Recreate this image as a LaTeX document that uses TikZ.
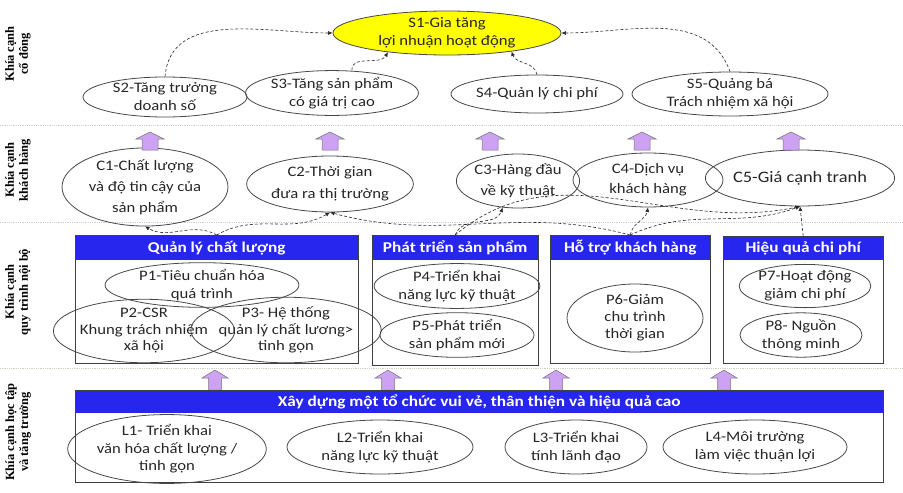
\documentclass[tikz,border=0pt]{standalone}
\usepackage{fontspec}
\setmainfont{Carlito}
\newfontfamily\ovalfont{Carlito}[FakeStretch=1.15]
\newfontfamily\sidefont{Liberation Serif}
\usetikzlibrary{shapes.geometric,arrows.meta}

\definecolor{hdrblue}{RGB}{38,38,238}
\definecolor{goalyellow}{RGB}{255,255,0}
\definecolor{liftpurple}{RGB}{206,162,242}
\definecolor{rulegrey}{RGB}{210,208,196}

\begin{document}
\begin{tikzpicture}[x=1pt,y=-1pt,
  oval/.style={ellipse, draw=black!72, line width=0.8pt, inner sep=0pt, align=center,
    text=black!85, font=\ovalfont\fontsize{14.5}{18}\selectfont},
  goal/.style={oval, fill=goalyellow},
  panel/.style={draw=black!75, line width=0.7pt, inner sep=0pt, anchor=north west},
  banner/.style={fill=hdrblue, text=white, inner sep=0pt, anchor=north west,
    font=\ovalfont\bfseries\fontsize{15}{17}\selectfont},
  link/.style={densely dashed, line width=0.6pt, black!85, -{Latex[length=4.5pt,width=4pt]}},
  liftbody/.style={draw=black!55, fill=liftpurple, line width=0.5pt, line join=miter},
  side/.style={rotate=90, align=center, inner sep=0pt,
    font=\sidefont\bfseries\fontsize{12.5}{14}\selectfont},
  rule/.style={rulegrey, line width=0.8pt, densely dotted},
  % block arrow standing on its base point
  lift/.pic={\path[liftbody] (-8,0) -- (-8,-11) -- (-14,-11) -- (0,-18) -- (14,-11) -- (8,-11) -- (8,0) -- cycle;},
  liftlow/.pic={\path[liftbody] (-6.5,0) -- (-6.5,-12) -- (-13,-12) -- (0,-20) -- (13,-12) -- (6.5,-12) -- (6.5,0) -- cycle;}
]
\useasboundingbox (0,0) rectangle (903,493);

% perspective separators
\draw[rule] (0,125) -- (903,125);
\draw[rule] (0,222) -- (903,222);
\draw[rule] (0,368) -- (903,368);

% perspective labels
\node[side] (lab1) at (18,54)  {Khía cạnh\\cổ đông};
\node[side] (lab2) at (18,170) {Khía cạnh\\khách hàng};
\node[side] (lab3) at (18,292) {Khía cạnh\\quy trình nội bộ};
\node[side] (lab4) at (18,432) {Khía cạnh học tập\\và tăng trưởng};

% shareholder perspective
\node[goal, minimum width=228pt, minimum height=44pt] (s1) at (447,33) {S1-Gia tăng\\lợi nhuận hoạt động};
\node[oval, minimum width=164pt, minimum height=40pt] (s2) at (165,97) {S2-Tăng trưởng\\doanh số};
\node[oval, minimum width=122pt, minimum height=44pt] (s3) at (332,93) {S3-Tăng sản phẩm\\có giá trị cao};
\node[oval, minimum width=146pt, minimum height=38pt] (s4) at (537,94) {S4-Quản lý chi phí};
\node[oval, minimum width=196pt, minimum height=44pt] (s5) at (730,94) {S5-Quảng bá\\Trách nhiệm xã hội};

\draw[link] (s2.north) to[out=85,in=180] (s1.west);
\draw[link] ([xshift=20pt]s3.north) to[out=95,in=-120] (s1.198);
\draw[link] (s4.north) to[out=100,in=-70] (s1.-16);
\draw[link] (s5.north) to[out=110,in=0] (s1.east);

% customer perspective
\node[oval, minimum width=166pt, minimum height=60pt, font=\ovalfont\fontsize{14.5}{21}\selectfont] (c1) at (145,187) {C1-Chất lượng\\và độ tin cậy của\\sản phẩm};
\node[oval, minimum width=134pt, minimum height=56pt, font=\ovalfont\fontsize{14.5}{22}\selectfont] (c2) at (330,184) {C2-Thời gian\\đưa ra thị trường};
\node[oval, minimum width=102pt, minimum height=54pt, font=\ovalfont\fontsize{14.5}{21}\selectfont] (c3) at (518,181) {C3-Hàng đầu\\về kỹ thuật};
\node[oval, minimum width=150pt, minimum height=54pt, font=\ovalfont\fontsize{14.5}{20}\selectfont] (c4) at (648,180) {C4-Dịch vụ\\khách hàng};
\node[oval, minimum width=146pt, minimum height=56pt, font=\ovalfont\fontsize{16}{20}\selectfont] (c5) at (800,178) {C5-Giá cạnh tranh};

% lifts from customer to shareholder perspective
\pic (u1) at (150,150) {lift};
\pic (u2) at (330,150) {lift};
\pic (u3) at (490,150) {lift};
\pic (u4) at (642,150) {lift};
\pic (u5) at (791,150) {lift};

% internal process perspective
\node[banner, minimum width=283pt, minimum height=25pt] (qlhead) at (75,235) {Quản lý chất lượng};
\node[panel, minimum width=283pt, minimum height=128pt] (qlbox) at (75,235) {};
\node[banner, minimum width=166pt, minimum height=25pt] (pthead) at (372,235) {Phát triển sản phẩm};
\node[panel, minimum width=166pt, minimum height=130pt] (ptbox) at (372,235) {};
\node[banner, minimum width=160pt, minimum height=25pt] (hthead) at (550,235) {Hỗ trợ khách hàng};
\node[panel, minimum width=160pt, minimum height=128pt] (htbox) at (550,235) {};
\node[banner, minimum width=160pt, minimum height=24pt] (hqhead) at (723,236) {Hiệu quả chi phí};
\node[panel, minimum width=160pt, minimum height=127pt] (hqbox) at (723,236) {};

\node[oval, minimum width=194pt, minimum height=36pt] (p1) at (202,285) {P1-Tiêu chuẩn hóa\\quá trình};
\node[oval, minimum width=136pt, minimum height=54pt, font=\ovalfont\fontsize{14.5}{16.5}\selectfont] (p2) at (144,331) {P2-CSR\\Khung trách nhiệm\\xã hội};
\node[oval, minimum width=146pt, minimum height=58pt, font=\ovalfont\fontsize{14.5}{16.5}\selectfont] (p3) at (286,330) {P3- Hệ thống\\quản lý chất lương>\\tinh gọn};
\node[oval, minimum width=160pt, minimum height=42pt] (p4) at (457,286) {P4-Triển khai\\năng lực kỹ thuật};
\node[oval, minimum width=154pt, minimum height=38pt] (p5) at (457,335) {P5-Phát triển\\sản phẩm mới};
\node[oval, minimum width=136pt, minimum height=68pt, font=\ovalfont\fontsize{14.5}{17}\selectfont] (p6) at (635,318) {P6-Giảm\\chu trình\\thời gian};
\node[oval, minimum width=130pt, minimum height=42pt] (p7) at (805,286) {P7-Hoạt động\\giảm chi phí};
\node[oval, minimum width=122pt, minimum height=40pt] (p8) at (801,335) {P8- Nguồn\\thông minh};

% process objectives feeding customer objectives
\draw[link] (qlhead.north) to[out=150,in=-30] (c1.south);
\draw[link] (qlhead.north) to[out=30,in=-150] (c2.south);
\draw[link] (pthead.north) to[out=70,in=-110] (c3.240);
\draw[link] (pthead.north) to[out=40,in=192] (c5.south);
\draw[link] (hthead.north) to[out=80,in=-100] (c4.south);
\draw[link] (hthead.north) to[out=165,in=-15] (c2.south);
\draw[link] (hthead.north) to[out=25,in=200] (c5.south);
\draw[link] (hqhead.north) -- (c5.south);

% lifts from learning to process perspective
\pic (v1) at (215,390) {liftlow};
\pic (v2) at (388,390) {liftlow};
\pic (v3) at (556,390) {liftlow};
\pic (v4) at (724,390) {liftlow};

% learning and growth perspective
\node[banner, minimum width=808pt, minimum height=23pt] (lghead) at (75,390) {Xây dựng một tổ chức vui vẻ, thân thiện và hiệu quả cao};
\node[panel, minimum width=808pt, minimum height=92pt] (lgbox) at (75,390) {};

\node[oval, minimum width=180pt, minimum height=62pt, font=\ovalfont\fontsize{14.5}{17.5}\selectfont] (l1) at (167,449) {L1- Triển khai\\văn hóa chất lượng /\\tinh gọn};
\node[oval, minimum width=186pt, minimum height=54pt] (l2) at (380,447) {L2-Triển khai\\năng lực kỹ thuật};
\node[oval, minimum width=142pt, minimum height=54pt] (l3) at (576,447) {L3-Triển khai\\tính lãnh đạo};
\node[oval, minimum width=184pt, minimum height=54pt] (l4) at (755,447) {L4-Môi trường\\làm việc thuận lợi};
\end{tikzpicture}
\end{document}
